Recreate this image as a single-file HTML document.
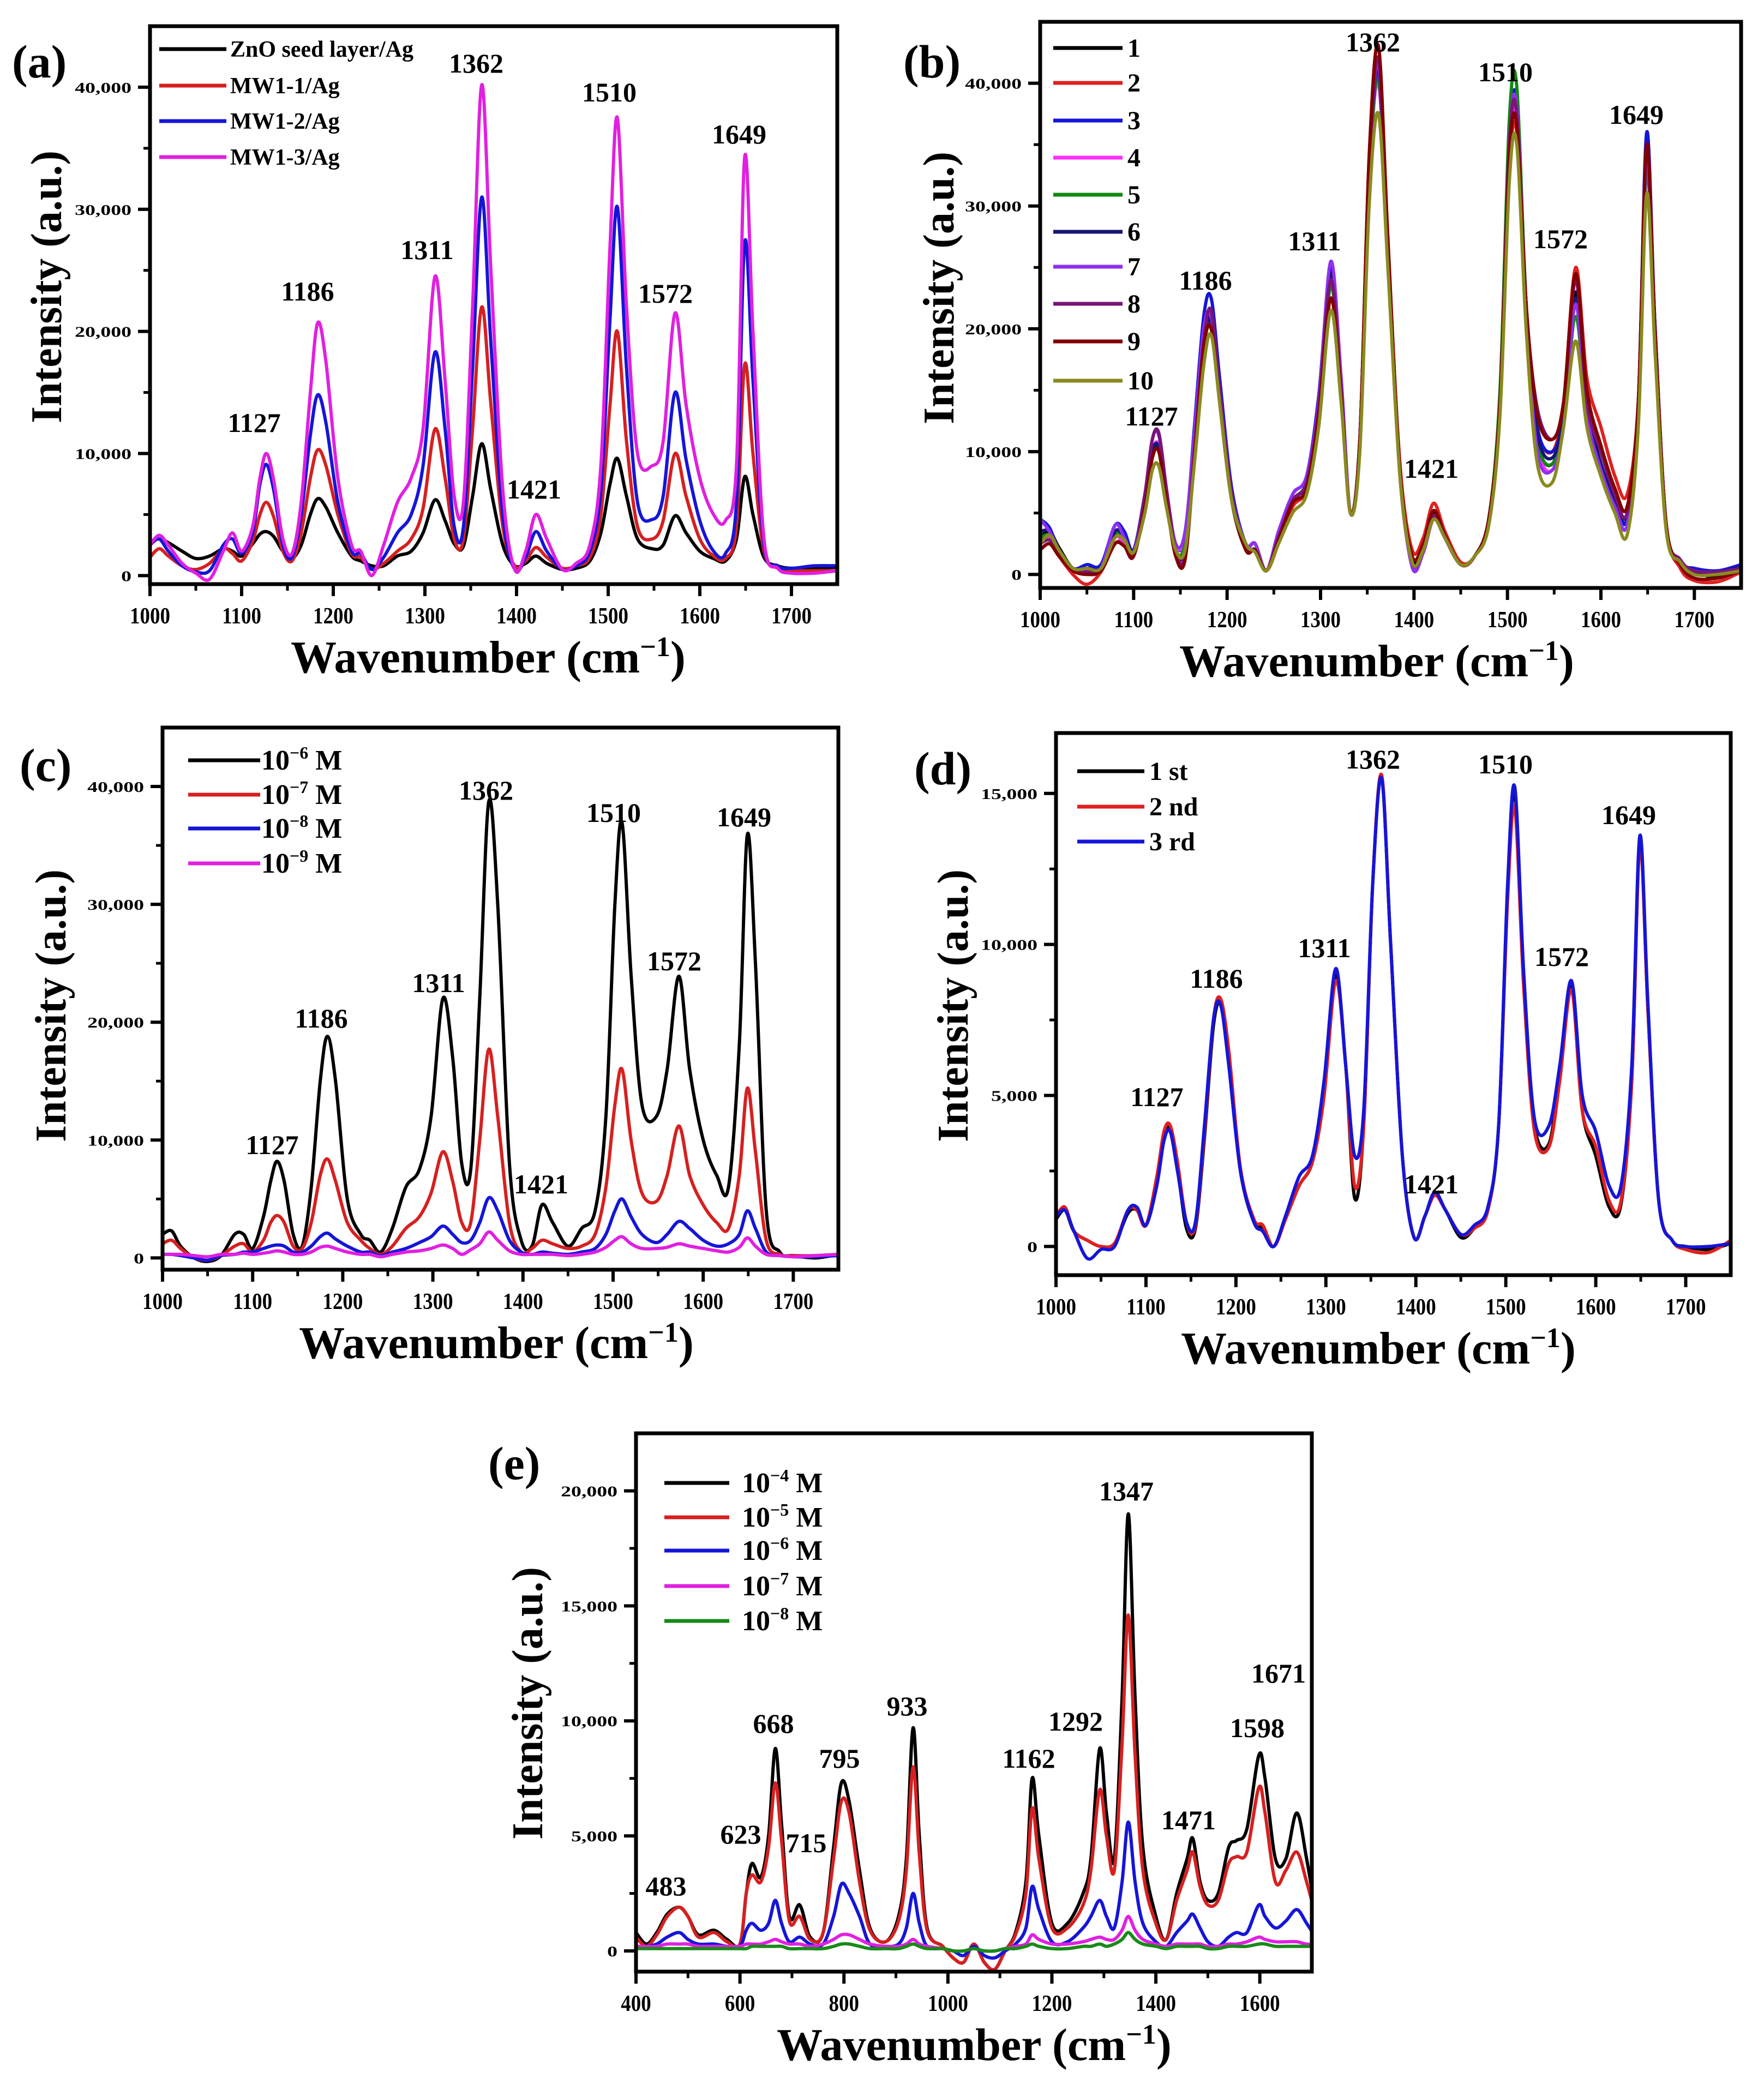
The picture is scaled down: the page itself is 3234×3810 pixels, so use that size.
<!DOCTYPE html>
<html><head><meta charset="utf-8"><style>
html,body{margin:0;padding:0;background:#fff}
svg{display:block}
text{font-family:"Liberation Serif",serif;font-weight:bold;fill:#000}
</style></head><body>
<svg id="fig" width="3234" height="3810" viewBox="0 0 3234 3810" xmlns="http://www.w3.org/2000/svg"></svg>
<script>
// ---------- data ----------
const gridA = [1000,1010,1020,1035,1050,1065,1080,1090,1100,1112,1120,1127,1135,1145,1155,1165,1175,1183,1192,1205,1220,1230,1242,1255,1270,1285,1298,1311,1322,1332,1342,1352,1362,1372,1385,1398,1410,1421,1433,1450,1465,1480,1492,1502,1510,1520,1532,1548,1560,1573,1585,1600,1615,1628,1640,1649,1658,1670,1685,1700,1725,1750];
// panel a (thousands)
const aZnO = [2.8,3.0,2.7,2.0,1.4,1.6,2.2,2.0,1.6,2.6,3.4,3.6,3.2,2.0,1.4,2.5,5.0,6.3,5.6,3.5,1.6,1.2,0.8,0.8,1.6,2.0,3.5,6.2,4.5,2.6,2.4,6.5,10.8,7.0,2.5,0.8,1.0,1.6,1.0,0.5,0.6,1.2,3.5,7.5,9.6,6.5,3.0,2.2,2.5,4.9,3.5,2.0,1.4,1.2,3.0,8.1,5.0,1.5,0.8,0.6,0.6,0.7];
const aMW1 = [1.5,2.2,1.6,0.8,0.5,1.0,2.2,1.8,1.2,2.8,5.0,6.0,4.8,2.0,1.2,3.5,8.0,10.3,9.0,5.0,1.8,1.5,0.5,1.0,2.0,3.0,5.5,12.0,8.0,3.0,3.0,12.0,22.0,14.0,4.0,0.8,1.2,2.3,1.5,0.6,0.8,1.5,5.0,14.0,20.0,11.0,4.0,3.0,4.5,10.0,6.5,3.0,1.6,1.4,4.0,17.3,10.0,2.0,0.6,0.4,0.4,0.4];
const aMW2 = [2.5,3.0,2.0,0.8,0.3,0.4,2.5,3.0,1.8,3.5,7.5,9.1,7.0,2.5,1.5,5.0,11.5,14.8,12.5,6.0,2.0,1.8,0.5,1.5,3.5,5.0,9.0,18.3,12.0,4.0,4.0,17.0,31.0,19.0,5.0,0.5,1.5,3.6,2.0,0.5,0.8,2.0,7.0,21.0,30.2,17.0,6.0,4.6,6.5,15.0,9.5,4.5,2.0,1.8,6.0,27.3,16.0,2.5,0.8,0.6,0.8,0.8];
const aMW3 = [2.5,3.3,2.5,1.0,0.2,-0.3,2.0,3.5,2.0,4.0,8.0,10.0,7.8,3.0,1.8,6.0,15.0,20.7,17.5,8.0,2.5,2.0,0.0,2.5,6.0,8.0,12.0,24.5,16.0,6.5,6.0,22.0,40.2,25.0,7.0,0.5,2.0,5.0,3.0,0.5,1.0,2.5,9.0,27.0,37.5,22.0,10.0,9.0,11.0,21.5,14.0,8.0,5.0,4.5,9.0,34.3,20.0,3.0,0.6,0.2,0.2,0.4];
// panel b
const b1 = [3.0,3.5,2.2,0.5,0.5,0.8,3.5,3.0,2.0,6.0,10.0,10.2,6.5,2.0,2.0,10.0,19.0,21.0,15.0,6.5,2.0,2.0,0.3,3.0,6.0,7.5,14.0,24.5,15.5,5.0,11.0,33.0,42.0,27.0,8.5,1.2,2.5,5.0,3.0,0.8,1.5,4.5,14.0,34.0,37.0,22.0,11.0,9.0,13.0,23.0,14.0,9.0,6.0,4.5,13.0,34.0,20.0,4.0,1.0,0.2,-0.2,0.5];
const b2 = [2.0,2.5,1.5,0.0,-0.8,0.2,2.5,2.5,1.5,5.5,9.5,10.0,6.0,1.5,1.5,9.5,18.5,20.5,14.5,6.5,2.0,2.0,0.3,2.5,5.5,7.0,13.0,22.5,15.0,5.0,11.0,34.0,43.0,27.0,9.0,2.0,3.0,5.8,3.5,1.0,1.5,4.5,14.0,33.0,36.0,22.0,12.0,10.0,14.0,25.0,16.0,12.0,8.0,6.5,14.0,34.0,19.0,4.0,0.5,-0.5,-0.6,0.2];
const b3 = [4.5,3.8,2.0,0.5,0.8,0.8,4.0,3.5,2.0,6.5,10.0,10.5,6.5,2.5,3.0,12.0,21.0,22.5,16.0,7.0,2.5,2.5,0.3,3.0,6.5,8.0,14.5,25.0,16.0,5.0,11.0,33.0,41.0,27.0,8.5,1.0,2.0,4.5,3.0,0.8,1.5,4.5,14.0,35.0,38.5,22.0,12.0,10.0,13.0,22.0,13.0,9.0,6.0,4.5,14.0,36.0,20.0,4.0,1.0,0.5,0.3,0.8];
const b4 = [3.0,3.0,1.8,0.3,0.3,0.5,3.0,2.5,1.5,6.0,10.0,10.5,6.5,2.5,3.0,11.0,19.5,21.0,15.0,6.5,2.2,2.0,0.3,3.0,6.0,7.5,13.5,24.0,15.0,5.0,11.0,32.0,40.0,26.0,8.0,0.8,1.8,4.5,3.0,0.8,1.5,4.5,14.0,34.0,37.0,21.0,10.5,8.5,12.5,22.0,13.0,8.5,5.5,4.0,13.0,33.0,19.0,4.0,1.0,0.3,0.2,0.5];
const b5 = [3.0,3.2,2.0,0.5,0.5,0.5,3.2,2.8,1.8,5.5,9.5,10.0,6.0,2.0,2.5,10.0,18.5,20.0,14.5,6.0,2.0,2.0,0.3,3.0,6.0,7.5,13.0,23.5,15.0,5.0,11.0,32.0,40.5,26.0,8.0,1.0,2.0,4.5,3.0,0.8,1.5,4.5,15.0,37.0,39.7,22.0,11.0,9.0,12.5,21.0,13.0,8.5,5.5,4.0,13.0,33.0,19.0,4.0,1.0,0.3,0.2,0.5];
const b6 = [3.5,3.5,2.0,0.5,0.5,0.5,3.5,3.0,2.0,6.0,10.0,10.3,6.2,2.0,2.0,10.0,19.0,20.5,15.0,6.5,2.5,2.5,0.3,3.0,6.0,7.5,13.5,24.5,15.0,5.0,11.0,33.0,41.0,27.0,8.5,1.0,2.0,4.8,3.0,0.8,1.5,4.5,14.0,35.0,37.5,22.0,11.5,9.5,13.0,22.5,13.5,9.0,6.0,5.0,14.0,35.0,20.0,4.0,1.0,0.3,0.2,0.6];
const b7 = [4.5,3.5,2.0,0.3,0.3,0.5,4.0,3.0,1.8,6.5,11.0,11.3,7.0,2.5,3.5,11.5,20.0,21.0,15.0,6.5,2.5,2.5,0.3,3.5,6.5,8.0,14.0,25.5,16.0,5.0,11.0,33.0,41.5,27.0,8.5,0.6,1.8,4.5,3.0,0.8,1.5,4.5,14.0,35.0,38.0,21.5,10.0,8.5,12.0,22.0,13.0,8.5,5.5,4.0,13.0,34.0,19.5,4.0,1.0,0.3,0.2,0.5];
const b8 = [2.5,2.8,1.8,0.3,0.2,0.5,2.5,2.3,1.5,6.5,11.0,11.5,7.0,2.0,1.5,10.0,19.0,21.5,15.0,6.5,2.2,2.0,0.3,3.0,6.0,7.5,13.5,24.0,15.0,5.0,11.0,33.0,42.0,27.0,8.5,1.0,2.0,4.8,3.0,0.8,1.5,4.5,14.0,35.0,37.5,22.0,13.5,11.0,14.0,24.0,14.0,10.0,6.5,5.0,14.0,35.0,20.0,4.0,1.2,0.3,0.2,0.5];
const b9 = [2.0,2.5,1.5,0.3,0.0,0.3,2.5,2.3,1.5,5.5,9.5,10.0,6.0,1.5,1.2,9.5,18.5,20.0,14.0,6.0,2.0,2.0,0.3,2.8,5.8,7.0,13.0,22.5,14.5,5.0,11.0,34.0,43.0,27.5,8.5,1.5,2.5,5.2,3.2,0.8,1.5,4.5,14.0,34.0,36.5,22.0,13.0,11.0,14.0,24.5,15.0,10.5,7.0,5.5,14.0,35.0,19.5,4.0,0.8,-0.3,-0.3,0.3];
const b10 = [2.5,3.2,2.0,0.5,0.5,0.5,3.0,2.8,1.8,5.0,8.5,8.8,5.5,2.0,2.0,9.0,17.0,19.5,14.0,6.0,2.5,1.8,0.3,2.5,5.0,6.5,12.0,21.5,14.0,5.0,10.0,30.0,37.5,25.0,8.0,1.0,2.0,4.5,3.0,0.8,1.5,4.0,13.0,32.0,35.0,20.0,9.0,7.5,12.0,19.0,12.0,8.0,5.0,3.2,12.0,31.0,18.0,3.5,1.0,0.0,0.0,0.3];
// panel c
const c6 = [2.0,2.3,1.0,0.0,-0.3,0.2,2.0,2.0,0.8,3.5,6.5,8.2,6.5,2.0,1.0,6.0,15.0,18.8,15.0,5.0,2.0,1.5,0.5,2.5,6.0,7.5,12.0,22.0,17.0,8.0,7.5,22.0,38.7,30.0,8.0,1.5,1.0,4.5,3.0,1.0,2.5,4.0,12.0,30.0,36.9,24.0,13.0,12.0,16.0,23.9,16.0,10.0,7.0,6.0,18.0,35.9,25.0,4.0,0.5,0.2,0.0,0.3];
const c7 = [1.2,1.5,0.8,0.0,-0.2,0.2,1.0,1.2,0.5,1.5,3.0,3.6,3.0,1.0,0.8,3.0,7.0,8.4,6.5,3.0,1.5,0.8,0.3,1.0,2.5,3.5,5.5,9.0,6.5,3.0,3.0,10.0,17.7,12.0,3.0,0.5,0.8,1.5,1.2,0.8,1.0,2.0,6.0,13.0,16.0,10.0,5.5,4.8,7.0,11.2,7.0,4.5,3.0,2.5,7.0,14.4,9.0,1.5,0.3,0.2,0.2,0.3];
const c8 = [0.3,0.3,0.2,0.0,-0.2,0.2,0.3,0.5,0.5,0.8,1.0,1.1,1.0,0.5,0.5,1.0,1.8,2.1,1.6,1.0,0.5,0.5,0.2,0.5,0.8,1.3,1.8,2.7,2.0,1.3,1.5,3.0,5.1,4.0,1.5,0.5,0.3,0.5,0.4,0.3,0.5,0.8,2.0,4.0,5.0,3.5,2.0,1.3,2.0,3.1,2.5,1.5,1.0,1.2,2.0,4.0,2.5,0.5,0.2,0.1,0.1,0.2];
const c9 = [0.3,0.3,0.3,0.2,0.1,0.3,0.3,0.4,0.3,0.4,0.5,0.6,0.5,0.3,0.3,0.5,0.9,1.0,0.8,0.5,0.3,0.3,0.1,0.3,0.5,0.6,0.8,1.1,0.8,0.3,0.7,1.2,2.2,1.5,0.6,0.3,0.3,0.3,0.3,0.2,0.3,0.5,0.9,1.5,1.8,1.2,0.8,0.8,0.9,1.2,1.0,0.8,0.6,0.5,0.9,1.7,1.0,0.3,0.2,0.1,0.2,0.3];
// panel d
const d1 = [0.9,1.2,0.5,0.2,0.0,0.1,1.1,1.2,0.7,2.2,3.6,3.9,2.6,0.6,0.6,3.6,7.3,8.0,6.2,2.5,0.8,0.6,0.0,0.9,2.0,2.8,5.0,9.0,6.0,1.6,4.0,12.0,15.5,10.0,3.0,0.3,1.0,1.7,1.2,0.3,0.6,1.2,4.0,11.8,15.0,8.8,4.0,3.4,5.8,8.7,4.5,3.0,1.3,1.4,5.5,13.4,7.8,1.5,0.2,0.0,-0.1,0.1];
const d2 = [1.0,1.3,0.5,0.2,0.0,0.1,1.2,1.2,0.7,2.3,3.8,4.0,2.8,0.8,0.7,3.8,7.5,8.2,6.5,2.6,0.9,0.7,0.0,0.9,2.0,2.8,5.0,8.8,6.0,2.0,4.0,12.0,15.6,10.0,3.0,0.3,1.0,1.7,1.2,0.4,0.6,1.2,4.0,11.5,14.5,8.5,3.8,3.3,5.5,8.5,4.5,3.3,1.5,1.5,5.5,13.3,7.8,1.5,0.2,-0.1,-0.2,0.2];
const d3 = [1.0,1.2,0.5,-0.4,-0.1,0.0,1.2,1.3,0.7,2.0,3.5,3.8,2.5,0.8,0.8,4.0,7.5,8.0,6.0,2.5,0.8,0.5,0.0,1.0,2.3,3.0,5.5,9.2,6.0,3.0,4.5,12.0,15.5,10.0,3.0,0.3,1.0,1.8,1.2,0.4,0.7,1.3,4.0,12.0,15.2,9.0,4.2,4.0,6.0,8.8,5.0,3.8,2.0,2.0,6.0,13.6,8.0,1.5,0.2,0.0,0.0,0.1];
// panel e
const gridE = [400,420,440,460,483,500,520,550,575,600,612,623,640,655,668,680,695,715,735,760,780,795,810,830,850,880,905,920,933,945,960,990,1010,1030,1050,1070,1090,1110,1130,1150,1162,1175,1200,1230,1260,1275,1292,1305,1320,1335,1347,1360,1375,1400,1420,1440,1460,1471,1485,1500,1520,1540,1555,1575,1598,1610,1630,1650,1671,1690,1710];
const e4 = [0.8,0.3,0.8,1.6,1.9,1.5,0.7,0.9,0.5,0.3,2.5,3.8,3.2,5.0,8.8,5.5,1.5,2.0,0.6,0.8,4.5,7.3,6.5,3.5,1.0,0.4,1.5,4.0,9.7,5.0,1.0,0.2,-0.3,-0.5,0.3,-0.5,-0.8,0.0,0.8,3.0,7.5,5.0,1.2,1.2,2.5,4.0,8.8,6.0,4.0,11.0,19.0,11.0,4.5,1.5,0.5,2.5,4.0,4.9,3.0,2.2,2.5,4.5,4.8,5.3,8.5,7.5,4.0,4.0,6.0,4.0,1.3];
const e5 = [0.6,0.2,0.7,1.5,1.9,1.5,0.6,0.8,0.4,0.3,2.5,3.3,3.0,4.5,7.3,4.8,1.3,1.5,0.5,0.8,4.0,6.5,6.0,3.0,0.9,0.4,1.3,3.5,8.0,4.2,0.9,0.2,-0.3,-0.5,0.3,-0.5,-0.8,0.0,0.7,2.5,6.2,4.0,1.0,1.0,2.0,3.5,7.0,5.0,3.5,9.0,14.6,8.5,3.5,1.2,0.5,2.2,3.5,4.3,2.8,2.0,2.2,3.8,4.1,4.3,7.1,6.0,3.0,3.5,4.3,3.0,1.3];
const e6 = [0.2,0.2,0.3,0.6,0.8,0.5,0.3,0.3,0.2,0.2,0.9,1.2,0.9,1.2,2.2,1.2,0.4,0.6,0.3,0.3,1.5,2.9,2.5,1.5,0.3,0.2,0.3,1.0,2.5,1.2,0.2,0.1,0.0,-0.2,0.2,-0.2,-0.3,0.0,0.3,1.0,2.8,1.8,0.4,0.4,1.0,1.5,2.2,1.5,1.0,3.0,5.6,3.0,1.2,0.4,0.2,0.8,1.3,1.6,1.0,0.4,0.2,0.6,0.8,0.8,2.0,1.5,1.0,1.3,1.8,1.2,0.5];
const e7 = [0.2,0.2,0.2,0.3,0.3,0.3,0.2,0.2,0.2,0.2,0.3,0.3,0.3,0.4,0.5,0.4,0.3,0.3,0.2,0.3,0.5,0.7,0.7,0.5,0.3,0.2,0.2,0.3,0.5,0.3,0.2,0.1,0.0,0.0,0.1,0.0,0.0,0.1,0.2,0.3,0.7,0.5,0.3,0.3,0.4,0.5,0.6,0.5,0.5,0.9,1.5,0.9,0.5,0.3,0.2,0.3,0.3,0.3,0.3,0.2,0.2,0.3,0.3,0.4,0.6,0.5,0.4,0.4,0.4,0.3,0.3];
const e8 = [0.1,0.1,0.1,0.1,0.1,0.1,0.1,0.1,0.1,0.1,0.1,0.2,0.2,0.2,0.2,0.2,0.1,0.1,0.1,0.1,0.2,0.3,0.3,0.2,0.1,0.1,0.1,0.2,0.3,0.2,0.1,0.1,0.0,0.0,0.1,0.0,0.0,0.1,0.1,0.2,0.3,0.2,0.1,0.1,0.2,0.2,0.3,0.2,0.3,0.5,0.8,0.5,0.3,0.2,0.1,0.2,0.2,0.2,0.2,0.1,0.1,0.2,0.2,0.2,0.3,0.3,0.2,0.2,0.2,0.2,0.2];

// tick labels
const yTicks40k = ["0","10,000","20,000","30,000","40,000"];
const yTicks15k = ["0","5,000","10,000","15,000"];
const yTicks20k = ["0","5,000","10,000","15,000","20,000"];
const xTicksA = ["1000","1100","1200","1300","1400","1500","1600","1700"];
const xTicksE = ["400","600","800","1000","1200","1400","1600"];

// peak labels
const peaksA = ["1127","1186","1311","1362","1421","1510","1572","1649"];
const peaksE = ["483","623","668","715","795","933","1162","1292","1347","1471","1598","1671"];

// ---------- drawing ----------
const NS = "http://www.w3.org/2000/svg";
const svg = document.getElementById('fig');
function mk(tag, attrs, parent){
  const e = document.createElementNS(NS, tag);
  for (const k in attrs) e.setAttribute(k, attrs[k]);
  (parent||svg).appendChild(e);
  return e;
}
function smoothPath(pts){
  let d = "M" + pts[0][0].toFixed(1) + "," + pts[0][1].toFixed(1);
  for (let i=0;i<pts.length-1;i++){
    const p0 = pts[Math.max(0,i-1)], p1 = pts[i], p2 = pts[i+1], p3 = pts[Math.min(pts.length-1,i+2)];
    const c1x = p1[0]+(p2[0]-p0[0])/6, c1y = p1[1]+(p2[1]-p0[1])/6;
    const c2x = p2[0]-(p3[0]-p1[0])/6, c2y = p2[1]-(p3[1]-p1[1])/6;
    d += " C"+c1x.toFixed(1)+","+c1y.toFixed(1)+" "+c2x.toFixed(1)+","+c2y.toFixed(1)+" "+p2[0].toFixed(1)+","+p2[1].toFixed(1);
  }
  return d;
}

function panel(cfg){
  const g = mk('g', {});
  
  
  const {L,T,R,B,xmin,xmax,ymin,ymax} = cfg;
  const sx = v => L + (v - xmin) / (xmax - xmin) * (R - L);
  const sy = v => B - (v - ymin) / (ymax - ymin) * (B - T);
  const cid = 'clip-' + cfg.id;
  const cp = mk('clipPath', {id: cid}, g);
  mk('rect', {x:L, y:T, width:R-L, height:B-T}, cp);
  const sg = mk('g', {'clip-path': 'url(#' + cid + ')'}, g);
  
  
  cfg.series.forEach(s => {
    const pts = cfg.grid.map((x,i) => [sx(x), sy(s.vals[i]*1000)]);
    const p = mk('path', {d: smoothPath(pts), fill:'none', stroke:s.color, 'stroke-width':6, 'stroke-linejoin':'round'}, sg);
    
    
  });
  const fr = mk('rect', {x:L, y:T, width:R-L, height:B-T, fill:'none', stroke:'#000', 'stroke-width':7}, g);
  
  
  cfg.yLabels.forEach((lab, i) => {
    const v = i * cfg.yStep;
    const y = sy(v);
    mk('line', {x1:L-22, x2:L, y1:y, y2:y, stroke:'#000', 'stroke-width':6}, g);
    const t = mk('text', {transform:'translate(' + (L-34) + ',' + (y+10) + ') scale(1.4,1)', 'font-size':27, 'text-anchor':'end'}, g);
    t.textContent = lab;
    
    
  });
  for (let v = cfg.yStep/2; v < ymax; v += cfg.yStep){
    mk('line', {x1:L-12, x2:L, y1:sy(v), y2:sy(v), stroke:'#000', 'stroke-width':5}, g);
  }
  cfg.xLabels.forEach((lab, i) => {
    const v = cfg.xStart + i * cfg.xStep;
    const x = sx(v);
    mk('line', {x1:x, x2:x, y1:B, y2:B+22, stroke:'#000', 'stroke-width':6}, g);
    const t = mk('text', {transform:'translate(' + x + ',' + (B+72) + ') scale(0.88,1)', 'font-size':42, 'text-anchor':'middle'}, g);
    t.textContent = lab;
    
    
  });
  for (let v = cfg.xStart + cfg.xStep/2; v < xmax; v += cfg.xStep){
    mk('line', {x1:sx(v), x2:sx(v), y1:B, y2:B+12, stroke:'#000', 'stroke-width':5}, g);
  }
  const xt = mk('text', {x:cfg.xtX, y:B+162, 'font-size':84, 'text-anchor':'middle'}, g);
  xt.innerHTML = 'Wavenumber (cm<tspan dy="-30" font-size="52">−1</tspan><tspan dy="30">)</tspan>';
  
  
  const yt = mk('text', {transform:'translate(' + (cfg.ytX+28) + ',' + cfg.ytY + ') rotate(-90)', 'font-size':80, 'text-anchor':'middle'}, g);
  yt.textContent = 'Intensity (a.u.)';
  
  
  const pl = mk('text', {x:cfg.letter[0], y:cfg.letter[1], 'font-size':86}, g);
  pl.textContent = '(' + cfg.id + ')';
  
  
  cfg.peakLabels.forEach((lab, i) => {
    const pos = cfg.peakPos[i];
    const t = mk('text', {x:pos[0], y:pos[1], 'font-size':50, 'text-anchor':'middle'}, g);
    t.textContent = lab;
    
    
  });
  const lg = mk('g', {}, g);
  
  
  cfg.series.forEach((s, i) => {
    if (!s.label) return;
    const y = cfg.legY[i];
    const e = mk('g', {}, lg);
    
    
    mk('line', {x1:cfg.legX[0], x2:cfg.legX[1], y1:y, y2:y, stroke:s.color, 'stroke-width':7}, e);
    const t = mk('text', {x:cfg.legX[2], y:y + cfg.legFont*0.33, 'font-size':cfg.legFont}, e);
    t.innerHTML = s.label;
  });
}

const sup = n => '10<tspan dy="-20" font-size="32">−' + n + '</tspan><tspan dy="20"> M</tspan>';

panel({id:'a', L:275, T:48, R:1535, B:1071, xmin:1000, xmax:1750, ymin:-700, ymax:45000,
  grid:gridA, yStep:10000, yLabels:yTicks40k, xStart:1000, xStep:100, xLabels:xTicksA,
  xtX:895, ytX:84, ytY:526, letter:[22,142],
  peakLabels:peaksA, peakPos:[[466,792],[564,551],[783,475],[873,133],[979,914],[1117,186],[1220,555],[1355,263]],
  legX:[292,415,422], legY:[90,157,222,288], legFont:42,
  series:[
    {key:'zno', color:'#000000', vals:aZnO, label:'ZnO seed layer/Ag'},
    {key:'mw1-1', color:'#d62020', vals:aMW1, label:'MW1-1/Ag'},
    {key:'mw1-2', color:'#1515d8', vals:aMW2, label:'MW1-2/Ag'},
    {key:'mw1-3', color:'#e020e0', vals:aMW3, label:'MW1-3/Ag'}]});

panel({id:'b', L:1907, T:40, R:3192, B:1078, xmin:1000, xmax:1750, ymin:-1100, ymax:45000,
  grid:gridA, yStep:10000, yLabels:yTicks40k, xStart:1000, xStep:100, xLabels:xTicksA,
  xtX:2524, ytX:1720, ytY:528, letter:[1656,142],
  peakLabels:peaksA, peakPos:[[2111,780],[2210,531],[2410,459],[2517,94],[2624,876],[2760,149],[2861,455],[3000,227]],
  legX:[1931,2058,2067], legY:[88,152,221,289,357,425,489,557,626,698], legFont:48,
  series:[
    {key:'1', color:'#000000', vals:b1, label:'1'},
    {key:'2', color:'#e02020', vals:b2, label:'2'},
    {key:'3', color:'#1515d8', vals:b3, label:'3'},
    {key:'4', color:'#ff30ff', vals:b4, label:'4'},
    {key:'5', color:'#108a10', vals:b5, label:'5'},
    {key:'6', color:'#161676', vals:b6, label:'6'},
    {key:'7', color:'#9030f0', vals:b7, label:'7'},
    {key:'8', color:'#7a147a', vals:b8, label:'8'},
    {key:'9', color:'#800000', vals:b9, label:'9'},
    {key:'10', color:'#8a8a20', vals:b10, label:'10'}]});

panel({id:'c', L:298, T:1334, R:1537, B:2328, xmin:1000, xmax:1750, ymin:-1000, ymax:45000,
  grid:gridA, yStep:10000, yLabels:yTicks40k, xStart:1000, xStep:100, xLabels:xTicksA,
  xtX:910, ytX:92, ytY:1844, letter:[36,1432],
  peakLabels:peaksA, peakPos:[[499,2116],[589,1884],[804,1819],[891,1466],[992,2188],[1125,1507],[1236,1779],[1364,1515]],
  legX:[345,477,479], legY:[1394,1457,1519,1583], legFont:52,
  series:[
    {key:'1e-6', color:'#000000', vals:c6, label:sup(6)},
    {key:'1e-7', color:'#d62020', vals:c7, label:sup(7)},
    {key:'1e-8', color:'#1515d8', vals:c8, label:sup(8)},
    {key:'1e-9', color:'#e020e0', vals:c9, label:sup(9)}]});

panel({id:'d', L:1936, T:1344, R:3173, B:2338, xmin:1000, xmax:1750, ymin:-950, ymax:17000,
  grid:gridA, yStep:5000, yLabels:yTicks15k, xStart:1000, xStep:100, xLabels:xTicksA,
  xtX:2527, ytX:1746, ytY:1844, letter:[1676,1438],
  peakLabels:peaksA, peakPos:[[2121,2028],[2230,1811],[2428,1755],[2517,1409],[2624,2188],[2760,1418],[2863,1771],[2986,1511]],
  legX:[1975,2098,2107], legY:[1414,1479,1543], legFont:48,
  series:[
    {key:'1st', color:'#000000', vals:d1, label:'1 st'},
    {key:'2nd', color:'#e02020', vals:d2, label:'2 nd'},
    {key:'3rd', color:'#1515d8', vals:d3, label:'3 rd'}]});

panel({id:'e', L:1166, T:2628, R:2405, B:3615, xmin:400, xmax:1700, ymin:-900, ymax:22500,
  grid:gridE, yStep:5000, yLabels:yTicks20k, xStart:400, xStep:200, xLabels:xTicksE,
  xtX:1786, ytX:966, ytY:3123, letter:[895,2712],
  peakLabels:peaksE, peakPos:[[1221,3475],[1358,3380],[1418,3177],[1478,3396],[1539,3241],[1663,3145],[1886,3241],[1972,3173],[2065,2751],[2179,3354],[2305,3185],[2344,3085]],
  legX:[1218,1337,1360], legY:[2719,2782,2843,2908,2972], legFont:52,
  series:[
    {key:'1e-4', color:'#000000', vals:e4, label:sup(4)},
    {key:'1e-5', color:'#d62020', vals:e5, label:sup(5)},
    {key:'1e-6', color:'#1515d8', vals:e6, label:sup(6)},
    {key:'1e-7', color:'#e020e0', vals:e7, label:sup(7)},
    {key:'1e-8', color:'#188a18', vals:e8, label:sup(8)}]});
</script>
</body></html>
